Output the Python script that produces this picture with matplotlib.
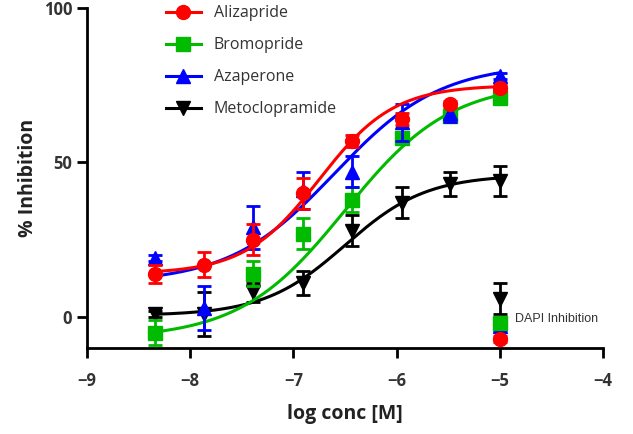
import numpy as np
import matplotlib
matplotlib.use('Agg')
import matplotlib.pyplot as plt

# log concentrations (3-fold dilutions)
log_conc = [-8.34, -7.86, -7.39, -6.91, -6.43, -5.95, -5.48, -5.0]

names = ['Alizapride', 'Bromopride', 'Azaperone', 'Metoclopramide']
colors = ['#ff0000', '#00bb00', '#0000ff', '#000000']
markers = ['o', 's', '^', 'v']

aliz_y = [14, 17, 25, 40, 57, 64, 69, 74]
aliz_err = [3, 4, 5, 5, 2, 2, 1, 1]
brom_y = [-5, np.nan, 14, 27, 38, 58, 65, 71]   # point at -7.86 hidden in the original
brom_err = [4, 0, 4, 5, 4, 2, 2, 1]
azap_y = [19, 3, 29, 41, 47, 63, 66, 78]
azap_err = [1, 7, 7, 6, 5, 6, 3, 1]
meto_y = [1, 1, 8, 11, 28, 37, 43, 44]
meto_err = [1, 7, 3, 4, 5, 5, 4, 5]

# DAPI inhibition at top concentration
dapi_y = [-7, -2, -3, 6]
dapi_err = [1, 2, 1, 5]

# 4PL fit parameters: bottom, top, logEC50, hill
fits = [(14, 75, -6.75, 1.2),
        (-7, 76, -6.5, 0.85),
        (11, 82, -6.6, 0.85),
        (0.5, 46, -6.5, 1.1)]

ys = [aliz_y, brom_y, azap_y, meto_y]
errs = [aliz_err, brom_err, azap_err, meto_err]
zorders = [8, 4, 6, 2]

fig = plt.figure(figsize=(6.33, 4.34), dpi=100)
ax = fig.add_axes([0.137, 0.198, 0.816, 0.784])

xs = np.linspace(log_conc[0], log_conc[-1], 200)
for i in range(4):
    b, t, ec, h = fits[i]
    curve = b + (t - b) / (1 + 10 ** ((ec - xs) * h))
    ax.plot(xs, curve, color=colors[i], lw=2.2, zorder=zorders[i])
    ax.errorbar(log_conc, ys[i], yerr=errs[i], fmt=markers[i], color=colors[i],
                ms=10, capsize=5, elinewidth=2, capthick=2, zorder=zorders[i] + 1)
    ax.plot([], [], color=colors[i], marker=markers[i], ms=10, lw=2.2, label=names[i])

for i in [3, 2, 1, 0]:
    ax.errorbar([log_conc[-1]], [dapi_y[i]], yerr=[dapi_err[i]], fmt=markers[i],
                color=colors[i], ms=10, capsize=5, elinewidth=2, capthick=2,
                zorder=10, clip_on=False)

ax.text(-4.85, -0.5, 'DAPI Inhibition', fontsize=9, color='#333333',
        family='Liberation Sans', va='center')

ax.set_xlim(-9, -4)
ax.set_ylim(-10, 100)
ax.set_xticks([-9, -8, -7, -6, -5, -4])
ax.set_yticks([0, 50, 100])
for s in ['top', 'right']:
    ax.spines[s].set_visible(False)
for s in ['left', 'bottom']:
    ax.spines[s].set_linewidth(2)
ax.tick_params(width=2, length=7, labelsize=12, colors='black')
ax.tick_params(axis='x', pad=10)
for lab in ax.get_xticklabels() + ax.get_yticklabels():
    lab.set_fontweight('bold')
    lab.set_color('#333333')
    lab.set_family('Open Sans')

ax.set_xlabel('log conc [M]', fontsize=14, fontweight='bold', family='Open Sans',
              color='#222222', labelpad=10)
ax.set_ylabel('% Inhibition', fontsize=14, fontweight='bold', family='Open Sans',
              color='#222222', labelpad=4)

ax.legend(loc='upper left', bbox_to_anchor=(0.125, 1.05), frameon=False,
          prop={'family': 'Open Sans', 'size': 11.5}, handlelength=2.2,
          labelspacing=1.0, labelcolor='#333333')

fig.savefig('out.png', dpi=100)
